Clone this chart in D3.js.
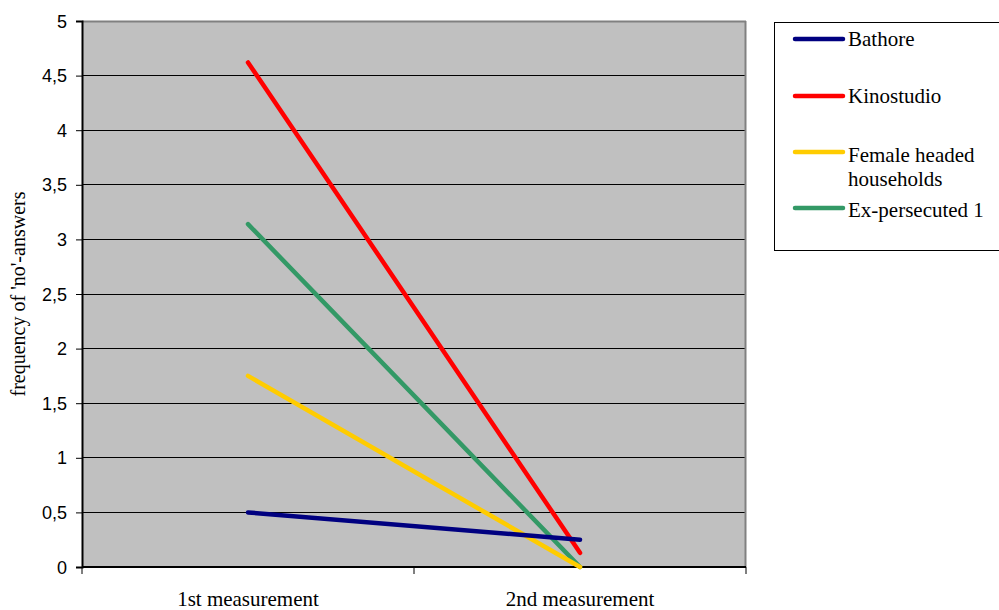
<!DOCTYPE html>
<html><head><meta charset="utf-8">
<script src="https://cdn.jsdelivr.net/npm/d3@7"></script>
<style>body{margin:0;background:#fff}svg{display:block}
.serif{font-family:"Liberation Serif","Times New Roman",Times,serif}
.sans{font-family:"Liberation Sans",Arial,Helvetica,sans-serif}
</style>
</head><body>
<svg id="c" width="999" height="610"></svg>
<script>
const categories = ["1st measurement", "2nd measurement"];
const seriesNames = ["Bathore", "Kinostudio", "Female headed households", "Ex-persecuted 1"];
const legendLabels = [["Bathore"], ["Kinostudio"], ["Female headed", "households"], ["Ex-persecuted 1"]];
const bathore = [0.5, 0.25];
const kinostudio = [4.62, 0.13];
const femaleHeaded = [1.75, 0.0];
const exPersecuted = [3.14, 0.0];
const seriesColors = ["#000080", "#ff0000", "#ffcc00", "#339966"];
const yTicks = [0, 0.5, 1, 1.5, 2, 2.5, 3, 3.5, 4, 4.5, 5];
const yTickLabels = ["0", "0,5", "1", "1,5", "2", "2,5", "3", "3,5", "4", "4,5", "5"];
const yTitle = "frequency of 'no'-answers";

const svg = d3.select("#c");
const L = 82, R = 746, T = 21, B = 567;
const x = d3.scaleBand().domain(categories).range([L, R]);
const y = d3.scaleLinear().domain([0, 5]).range([B, T]);

svg.append("rect").attr("x", L).attr("y", T).attr("width", R - L).attr("height", B - T).attr("fill", "#c0c0c0");
svg.append("g").selectAll("line").data(yTicks.filter(d => d > 0 && d < 5)).join("line")
  .attr("x1", L).attr("x2", R).attr("y1", d => y(d)).attr("y2", d => y(d))
  .attr("stroke", "#000").attr("stroke-width", 1).attr("shape-rendering", "crispEdges");
svg.append("line").attr("x1", L).attr("x2", R).attr("y1", T + 0.5).attr("y2", T + 0.5).attr("stroke", "#808080").attr("stroke-width", 2);
svg.append("line").attr("x1", R - 0.5).attr("x2", R - 0.5).attr("y1", T).attr("y2", B).attr("stroke", "#808080").attr("stroke-width", 2);

const yAxis = svg.append("g").attr("transform", `translate(${L},0)`)
  .call(d3.axisLeft(y).tickValues(yTicks).tickFormat((d, i) => yTickLabels[i]).tickSize(6).tickPadding(9));
yAxis.attr("font-family", null).attr("font-size", null);
yAxis.select(".domain").attr("stroke", "#000").attr("stroke-width", 2);
yAxis.selectAll(".tick line").attr("stroke", "#000");
yAxis.selectAll("text").attr("class", "sans").style("font-size", "18px").attr("fill", "#000").attr("dy", "0.34em");

const xAxis = svg.append("g").attr("transform", `translate(0,${B})`)
  .call(d3.axisBottom(x).tickSize(0).tickPadding(24));
xAxis.attr("font-family", null).attr("font-size", null);
xAxis.select(".domain").remove();
xAxis.selectAll("text").attr("class", "serif").style("font-size", "21px").attr("fill", "#000");
svg.append("line").attr("x1", L).attr("x2", R).attr("y1", B).attr("y2", B).attr("stroke", "#000").attr("stroke-width", 2);
const bounds = [L, L + x.bandwidth(), R];
svg.append("g").selectAll("line").data(bounds).join("line")
  .attr("x1", d => d).attr("x2", d => d).attr("y1", B).attr("y2", B + 7)
  .attr("stroke", "#000").attr("stroke-width", 1);

svg.append("text").attr("class", "serif").attr("transform", `translate(25,${(T + B) / 2}) rotate(-90)`)
  .attr("text-anchor", "middle").style("font-size", "20px").text(yTitle);

const allSeries = [bathore, kinostudio, femaleHeaded, exPersecuted];
const line = d3.line().x((d, i) => x(categories[i]) + x.bandwidth() / 2).y(d => y(d));
[3, 2, 1, 0].forEach(k => {
  svg.append("path").attr("d", line(allSeries[k])).attr("fill", "none")
    .attr("stroke", seriesColors[k]).attr("stroke-width", 4.5).attr("stroke-linecap", "round");
});

const lg = svg.append("g");
lg.append("rect").attr("x", 774.5).attr("y", 22.5).attr("width", 240).attr("height", 228)
  .attr("fill", "#fff").attr("stroke", "#000").attr("stroke-width", 1);
const ly = [39, 96, 152, 208];
const lt = [46, 103, 162, 217];
seriesNames.forEach((n, i) => {
  lg.append("line").attr("x1", 795).attr("x2", 843).attr("y1", ly[i]).attr("y2", ly[i])
    .attr("stroke", seriesColors[i]).attr("stroke-width", 4.5).attr("stroke-linecap", "round");
  const t = lg.append("text").attr("class", "serif").attr("x", 848).attr("y", lt[i])
    .style("font-size", "21px").attr("fill", "#000");
  legendLabels[i].forEach((s, j) => t.append("tspan").attr("x", 848).attr("dy", j === 0 ? 0 : 24).text(s));
});
</script>
</body></html>
